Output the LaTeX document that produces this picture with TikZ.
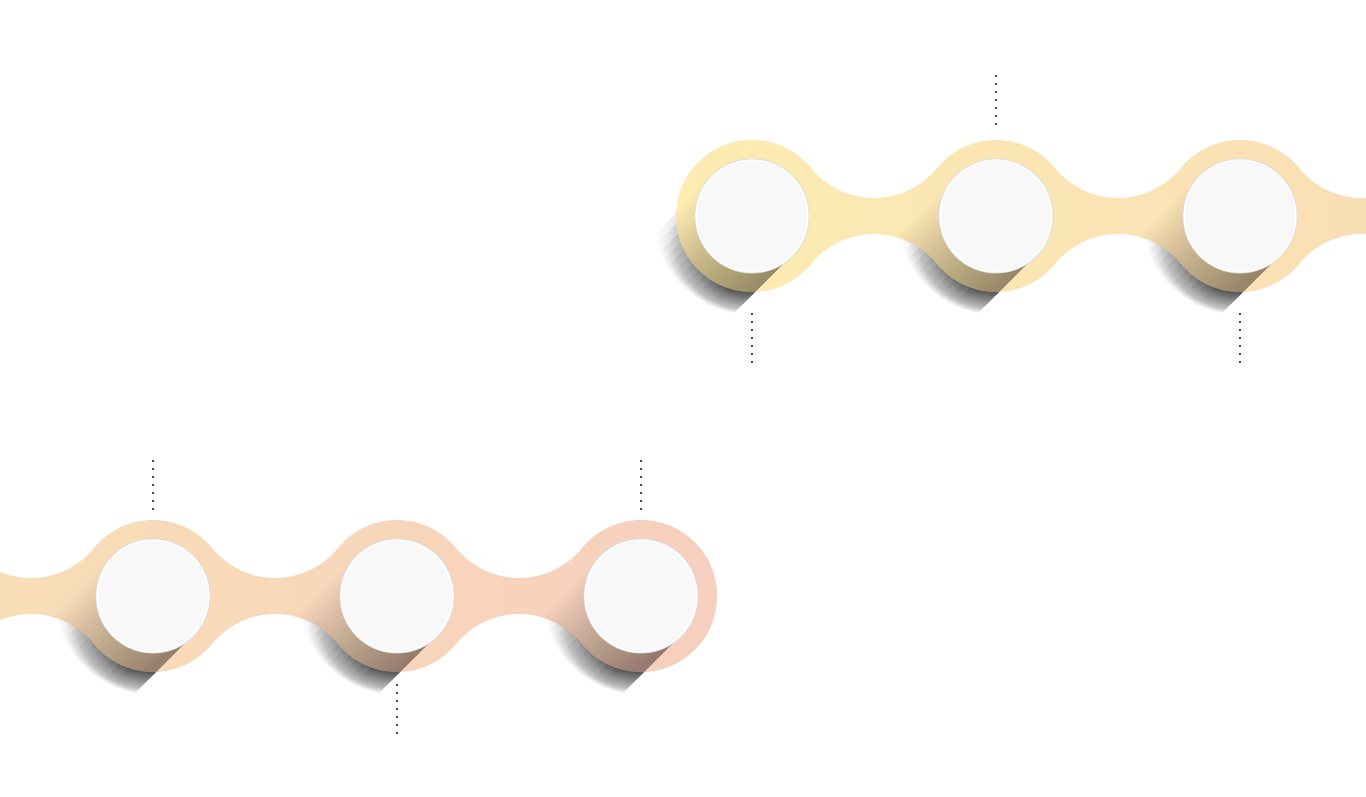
\documentclass[tikz,border=0pt]{standalone}
\usepackage{xcolor}
\usepackage{tikz}
\usetikzlibrary{positioning}
\definecolor{discfill}{RGB}{248,248,248}
\definecolor{dotgray}{RGB}{70,70,70}
\definecolor{bandA}{RGB}{252,236,177}
\definecolor{bandB}{RGB}{248,219,183}
\definecolor{bandC}{RGB}{249,225,180}
\definecolor{bandD}{RGB}{246,207,190}
\tikzset{
  disc/.style={circle,inner sep=0pt,minimum size=112pt,fill=discfill,
    draw=white,line width=1.4pt,preaction={draw=black!14,line width=3pt}},
  leader/.style={draw=dotgray,line width=2pt,dash pattern=on 2pt off 6pt},
  shadowlayer/.style={fill=black,opacity=0.0068},
  bandlayer/.style={fill=black,opacity=0.017}
}
% four linked rings, the first centred at #1
\newcommand{\chainpath}[1]{(#1) ++(39.14:76)
  arc[start angle=39.14,end angle=320.86,radius=76]
  arc[start angle=140.86,end angle=39.14,radius=81.31]
  arc[start angle=219.14,end angle=320.86,radius=76]
  arc[start angle=140.86,end angle=39.14,radius=81.31]
  arc[start angle=219.14,end angle=320.86,radius=76]
  arc[start angle=140.86,end angle=39.14,radius=81.31]
  arc[start angle=219.14,end angle=500.86,radius=76]
  arc[start angle=-39.14,end angle=-140.86,radius=81.31]
  arc[start angle=39.14,end angle=140.86,radius=76]
  arc[start angle=-39.14,end angle=-140.86,radius=81.31]
  arc[start angle=39.14,end angle=140.86,radius=76]
  arc[start angle=-39.14,end angle=-140.86,radius=81.31] -- cycle}
% long shadow on the white ground
\newcommand{\groundshadow}[1]{
  \begin{scope}[shift={(#1)},rotate=-135]
    \clip (0,-56) rectangle (120,56);
    \foreach \rad in {76,78,...,98}{
      \begin{scope}
        \clip (0,0) circle[radius=\rad];
        \foreach \t in {-56,-48,...,32}
          \path[shadowlayer] (0,\t) rectangle (120,56);
      \end{scope}}
  \end{scope}}
% long shadow on the band
\newcommand{\bandshadow}[2]{
  \begin{scope}
    \clip \chainpath{#1};
    \begin{scope}[shift={(#2)},rotate=-135]
      \clip (0,-56) rectangle (120,56);
      \foreach \t in {-56,-52,...,52}
        \path[bandlayer] (0,\t) rectangle (120,56);
    \end{scope}
  \end{scope}}

\begin{document}
\begin{tikzpicture}[x=1pt,y=1pt]
  \useasboundingbox (0,-796) rectangle (1366,0);
  \clip (0,-796) rectangle (1366,0);

  % upper row
  \groundshadow{752,-216}
  \groundshadow{996,-216}
  \groundshadow{1240,-216}
  \shade[left color=bandA,right color=bandB] \chainpath{752,-216};
  \bandshadow{752,-216}{752,-216}
  \bandshadow{752,-216}{996,-216}
  \bandshadow{752,-216}{1240,-216}
  \node[disc] (t1) at (752,-216) {};
  \node[disc] (t2) at (996,-216) {};
  \node[disc] (t3) at (1240,-216) {};

  % lower row
  \groundshadow{153,-596}
  \groundshadow{397,-596}
  \groundshadow{641,-596}
  \shade[left color=bandC,right color=bandD] \chainpath{-91,-596};
  \bandshadow{-91,-596}{153,-596}
  \bandshadow{-91,-596}{397,-596}
  \bandshadow{-91,-596}{641,-596}
  \node[disc] (b1) at (153,-596) {};
  \node[disc] (b2) at (397,-596) {};
  \node[disc] (b3) at (641,-596) {};

  \draw[leader] ([yshift=-40pt]t1.south) -- ++(0,-50);
  \draw[leader] ([yshift=34pt]t2.north) -- ++(0,50);
  \draw[leader] ([yshift=-40pt]t3.south) -- ++(0,-50);
  \draw[leader] ([yshift=29pt]b1.north) -- ++(0,50);
  \draw[leader] ([yshift=-31pt]b2.south) -- ++(0,-50);
  \draw[leader] ([yshift=29pt]b3.north) -- ++(0,50);
\end{tikzpicture}
\end{document}
